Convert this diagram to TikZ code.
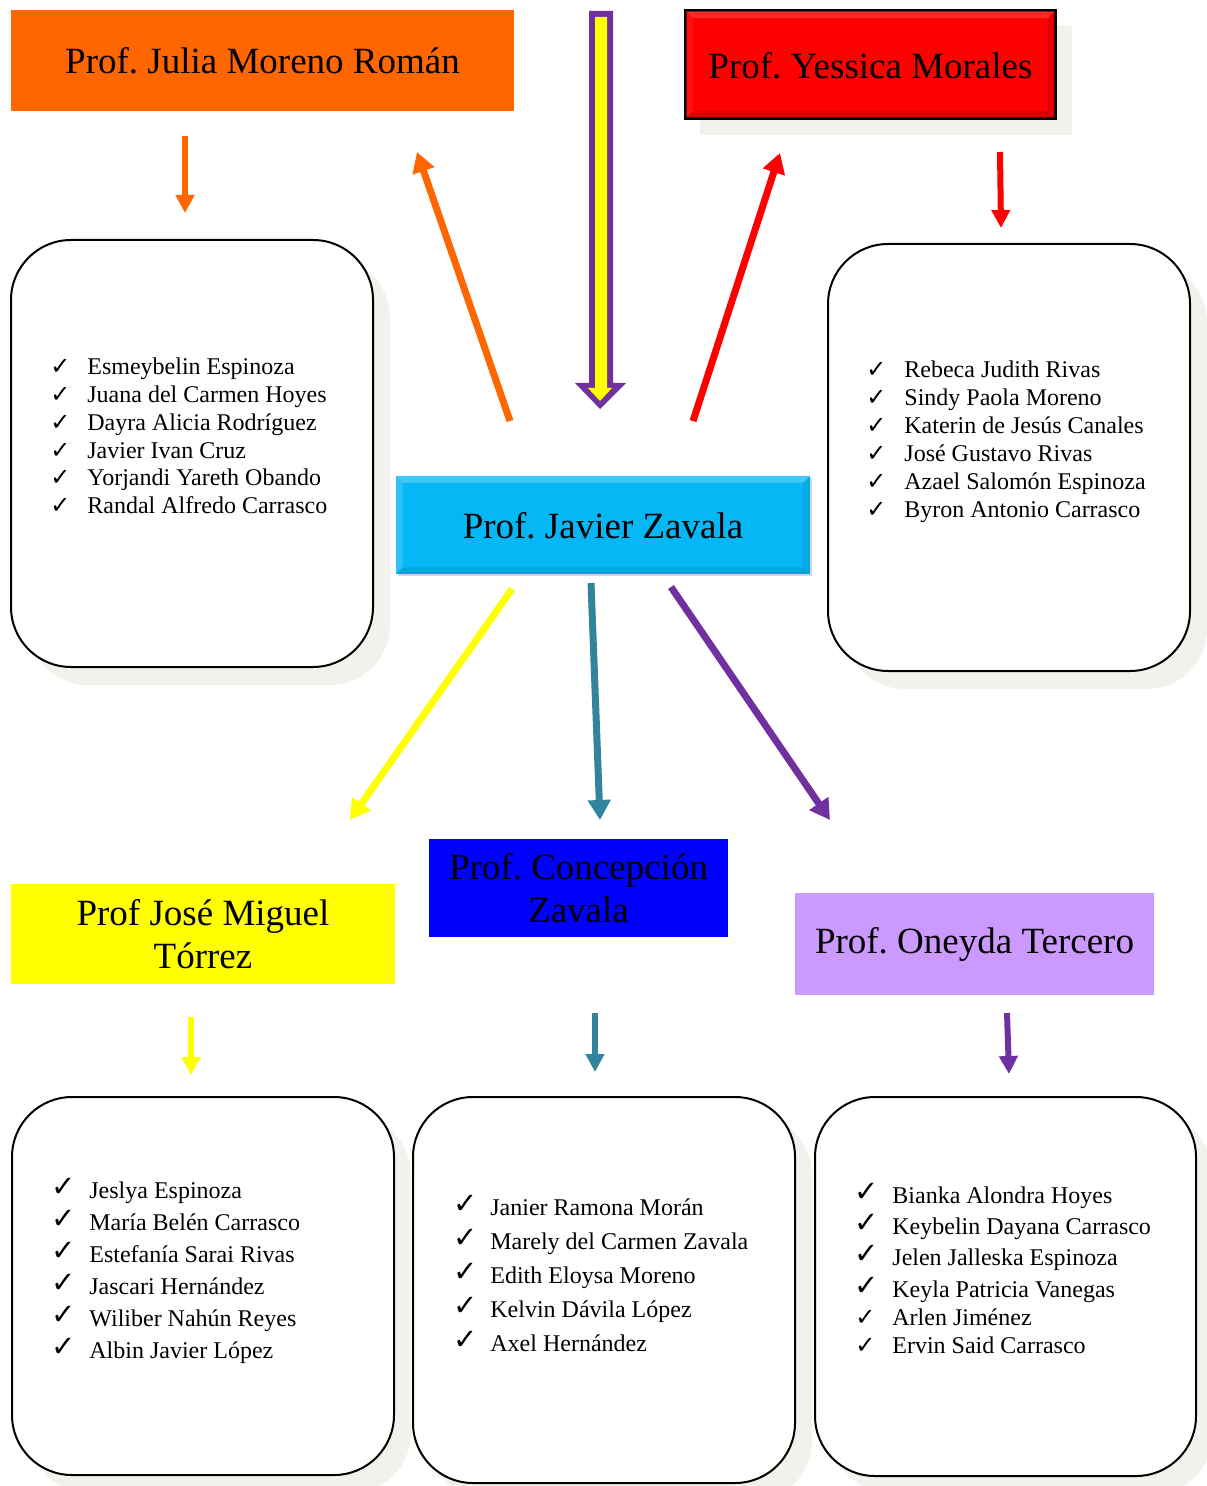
\documentclass[tikz,border=0pt]{standalone}
\usepackage{fontspec}
\setmainfont{Liberation Serif}
\newfontfamily\checkfont{DejaVu Sans}
\usetikzlibrary{arrows.meta,shadows,calc}
\definecolor{cOrange}{HTML}{FF6600}
\definecolor{cRed}{HTML}{FF0000}
\definecolor{cSky}{HTML}{05B8F5}
\definecolor{cBlue}{HTML}{0000FF}
\definecolor{cYellow}{HTML}{FFFF00}
\definecolor{cLav}{HTML}{CC99FF}
\definecolor{cTeal}{HTML}{31849B}
\definecolor{cPurple}{HTML}{7030A0}
\definecolor{cShadow}{HTML}{F2F1EC}
\frenchspacing
\begin{document}
\begin{tikzpicture}[x=0.5pt,y=-0.5pt,
  title/.style={font=\fontsize{18.5}{21.5}\selectfont, align=center, inner sep=0pt, text=black},
  listbox/.style={draw=black, line width=1pt, fill=white, rounded corners=30pt, inner sep=0pt,
     drop shadow={shadow xshift=8.5pt, shadow yshift=-9pt, fill=cShadow, opacity=1}},
  item/.style={anchor=base west, inner sep=0pt, font=\fontsize{12}{14}\selectfont},
  chk/.style={anchor=base west, inner sep=0pt, font=\checkfont\fontsize{12}{14}\selectfont},
  bigchk/.style={anchor=base west, inner sep=0pt, font=\checkfont\fontsize{14.5}{16}\selectfont},
  arr/.style={line width=3.5pt, -{Triangle[width=11pt,length=10pt]}},
  sarr/.style={line width=3pt, -{Triangle[width=9pt,length=9pt]}}
]
\useasboundingbox (0,0) rectangle (1206,1486);

% ---------- title boxes ----------
\node[title, fill=cOrange, minimum width=251.5pt, minimum height=50.5pt] (julia) at (262.5,60.5) {Prof. Julia Moreno Román};

\fill[cShadow] (700,26) rectangle (1072,135);
\node[title, fill=cRed, draw=black, line width=1.2pt, minimum width=184.5pt, minimum height=53.5pt] (yessica) at (870.5,64.5) {};
\fill[red!60!white, opacity=0.4] (yessica.north west) -- (yessica.north east) -- ++(-8,8) -- ($(yessica.north west)+(8,8)$) -- cycle;
\fill[red!70!black, opacity=0.45] (yessica.south west) -- (yessica.south east) -- ++(-8,-8) -- ($(yessica.south west)+(8,-8)$) -- cycle;
\fill[red!80!white, opacity=0.3] (yessica.north west) -- (yessica.south west) -- ++(8,-8) -- ($(yessica.north west)+(8,8)$) -- cycle;
\fill[red!70!black, opacity=0.35] (yessica.north east) -- (yessica.south east) -- ++(-8,-8) -- ($(yessica.north east)+(-8,8)$) -- cycle;
\draw[black, line width=1.2pt] (yessica.north west) rectangle (yessica.south east);
\node[title] (yessicat) at (870.5,66) {Prof. Yessica Morales};

\node[title, fill=cSky, minimum width=207pt, minimum height=49pt,
      drop shadow={shadow xshift=0.8pt, shadow yshift=-1.2pt, fill=black, opacity=0.15}] (javier) at (603,525) {};
\fill[white, opacity=0.25] (javier.north west) -- (javier.north east) -- ++(-7,7) -- ($(javier.north west)+(7,7)$) -- cycle;
\fill[black, opacity=0.1] (javier.south west) -- (javier.south east) -- ++(-7,-7) -- ($(javier.south west)+(7,-7)$) -- cycle;
\fill[white, opacity=0.15] (javier.north west) -- (javier.south west) -- ++(7,-7) -- ($(javier.north west)+(7,7)$) -- cycle;
\fill[black, opacity=0.07] (javier.north east) -- (javier.south east) -- ++(-7,-7) -- ($(javier.north east)+(-7,7)$) -- cycle;
\node[title] (javiert) at (603,526) {Prof. Javier Zavala};

\node[title, fill=cBlue, minimum width=149.5pt, minimum height=49pt] (concep) at (578.5,888) {Prof. Concepción\\Zavala};
\node[title, fill=cYellow, minimum width=192pt, minimum height=50pt] (jose) at (203,934) {Prof José Miguel\\Tórrez};
\node[title, fill=cLav, minimum width=179.5pt, minimum height=51pt] (oneyda) at (974.5,944) {Prof. Oneyda Tercero};

% ---------- list boxes ----------
\node[listbox, minimum width=181pt, minimum height=213.5pt] (L1) at (192,453.5) {};
\node[listbox, minimum width=181pt, minimum height=213.5pt] (R1) at (1009,457.5) {};
\node[listbox, minimum width=191pt, minimum height=189pt] (B1) at (203,1286) {};
\node[listbox, minimum width=191pt, minimum height=193pt] (B2) at (604,1290) {};
\node[listbox, minimum width=190.5pt, minimum height=189.5pt] (B3) at (1005.5,1286.5) {};

% ---------- lists ----------
\foreach \t [count=\i from 0] in {Esmeybelin Espinoza, Juana del Carmen Hoyes, Dayra Alicia Rodríguez, Javier Ivan Cruz, Yorjandi Yareth Obando, Randal Alfredo Carrasco}{
  \node[chk] (l1c\i) at (50,{375+27.7*\i}) {✓};
  \node[item] (l1t\i) at (87,{375+27.7*\i}) {\t};
}
\foreach \t [count=\i from 0] in {Rebeca Judith Rivas, Sindy Paola Moreno, Katerin de Jesús Canales, José Gustavo Rivas, Azael Salomón Espinoza, Byron Antonio Carrasco}{
  \node[chk] (r1c\i) at (866,{378+27.8*\i}) {✓};
  \node[item] (r1t\i) at (904,{378+27.8*\i}) {\t};
}
\foreach \t [count=\i from 0] in {Jeslya Espinoza, María Belén Carrasco, Estefanía Sarai Rivas, Jascari Hernández, Wiliber Nahún Reyes, Albin Javier López}{
  \node[bigchk] (b1c\i) at (51,{1196+32*\i}) {✓};
  \node[item] (b1t\i) at (89,{1198+32*\i}) {\t};
}
\foreach \t [count=\i from 0] in {Janier Ramona Morán, Marely del Carmen Zavala, Edith Eloysa Moreno, Kelvin Dávila López, Axel Hernández}{
  \node[bigchk] (b2c\i) at (453,{1213+34*\i}) {✓};
  \node[item] (b2t\i) at (490,{1215+34*\i}) {\t};
}
\foreach \t/\yy [count=\i from 0] in {Bianka Alondra Hoyes/1203, Keybelin Dayana Carrasco/1234, Jelen Jalleska Espinoza/1265, Keyla Patricia Vanegas/1297}{
  \node[bigchk] (b3c\i) at (854,\yy-2) {✓};
  \node[item] (b3t\i) at (892,\yy) {\t};
}
\foreach \t/\yy [count=\i from 4] in {Arlen Jiménez/1325, Ervin Said Carrasco/1353}{
  \node[chk] (b3c\i) at (855,\yy) {✓};
  \node[item] (b3t\i) at (892,\yy) {\t};
}

% ---------- arrow end points ----------
\coordinate (oS) at (510,421);  \coordinate (oE) at (417,152);
\coordinate (rS) at (693,421);  \coordinate (rE) at (780,153);
\coordinate (yS) at (512,589);  \coordinate (yE) at (350,820);
\coordinate (tS) at (591,583);  \coordinate (tE) at (600,820);
\coordinate (pS) at (671,587);  \coordinate (pE) at (830,820);
\coordinate (o2S) at (185,136); \coordinate (o2E) at (185,213);
\coordinate (r2S) at (1000,152); \coordinate (r2E) at (1001,228);
\coordinate (y2S) at (191,1017); \coordinate (y2E) at (191,1075);
\coordinate (t2S) at (595,1013); \coordinate (t2E) at (595,1072);
\coordinate (p2S) at (1007,1013); \coordinate (p2E) at (1009,1074);

\draw[arr, cOrange] (oS) -- (oE);
\draw[arr, cRed] (rS) -- (rE);
\draw[arr, cYellow] (yS) -- (yE);
\draw[arr, cTeal] (tS) -- (tE);
\draw[arr, cPurple] (pS) -- (pE);
\draw[sarr, cOrange] (o2S) -- (o2E);
\draw[sarr, cRed] (r2S) -- (r2E);
\draw[sarr, cYellow] (y2S) -- (y2E);
\draw[sarr, cTeal] (t2S) -- (t2E);
\draw[sarr, cPurple] (p2S) -- (p2E);

% ---------- double (outlined) arrow at the top ----------
\fill[cPurple] (589,11) -- (613,11) -- (613,383) -- (626,383) -- (600,409) -- (575,383) -- (589,383) -- cycle;
\fill[cYellow] (595,17) -- (607,17) -- (607,388) -- (612,388) -- (600,401) -- (588,388) -- (595,388) -- cycle;
\end{tikzpicture}
\end{document}
